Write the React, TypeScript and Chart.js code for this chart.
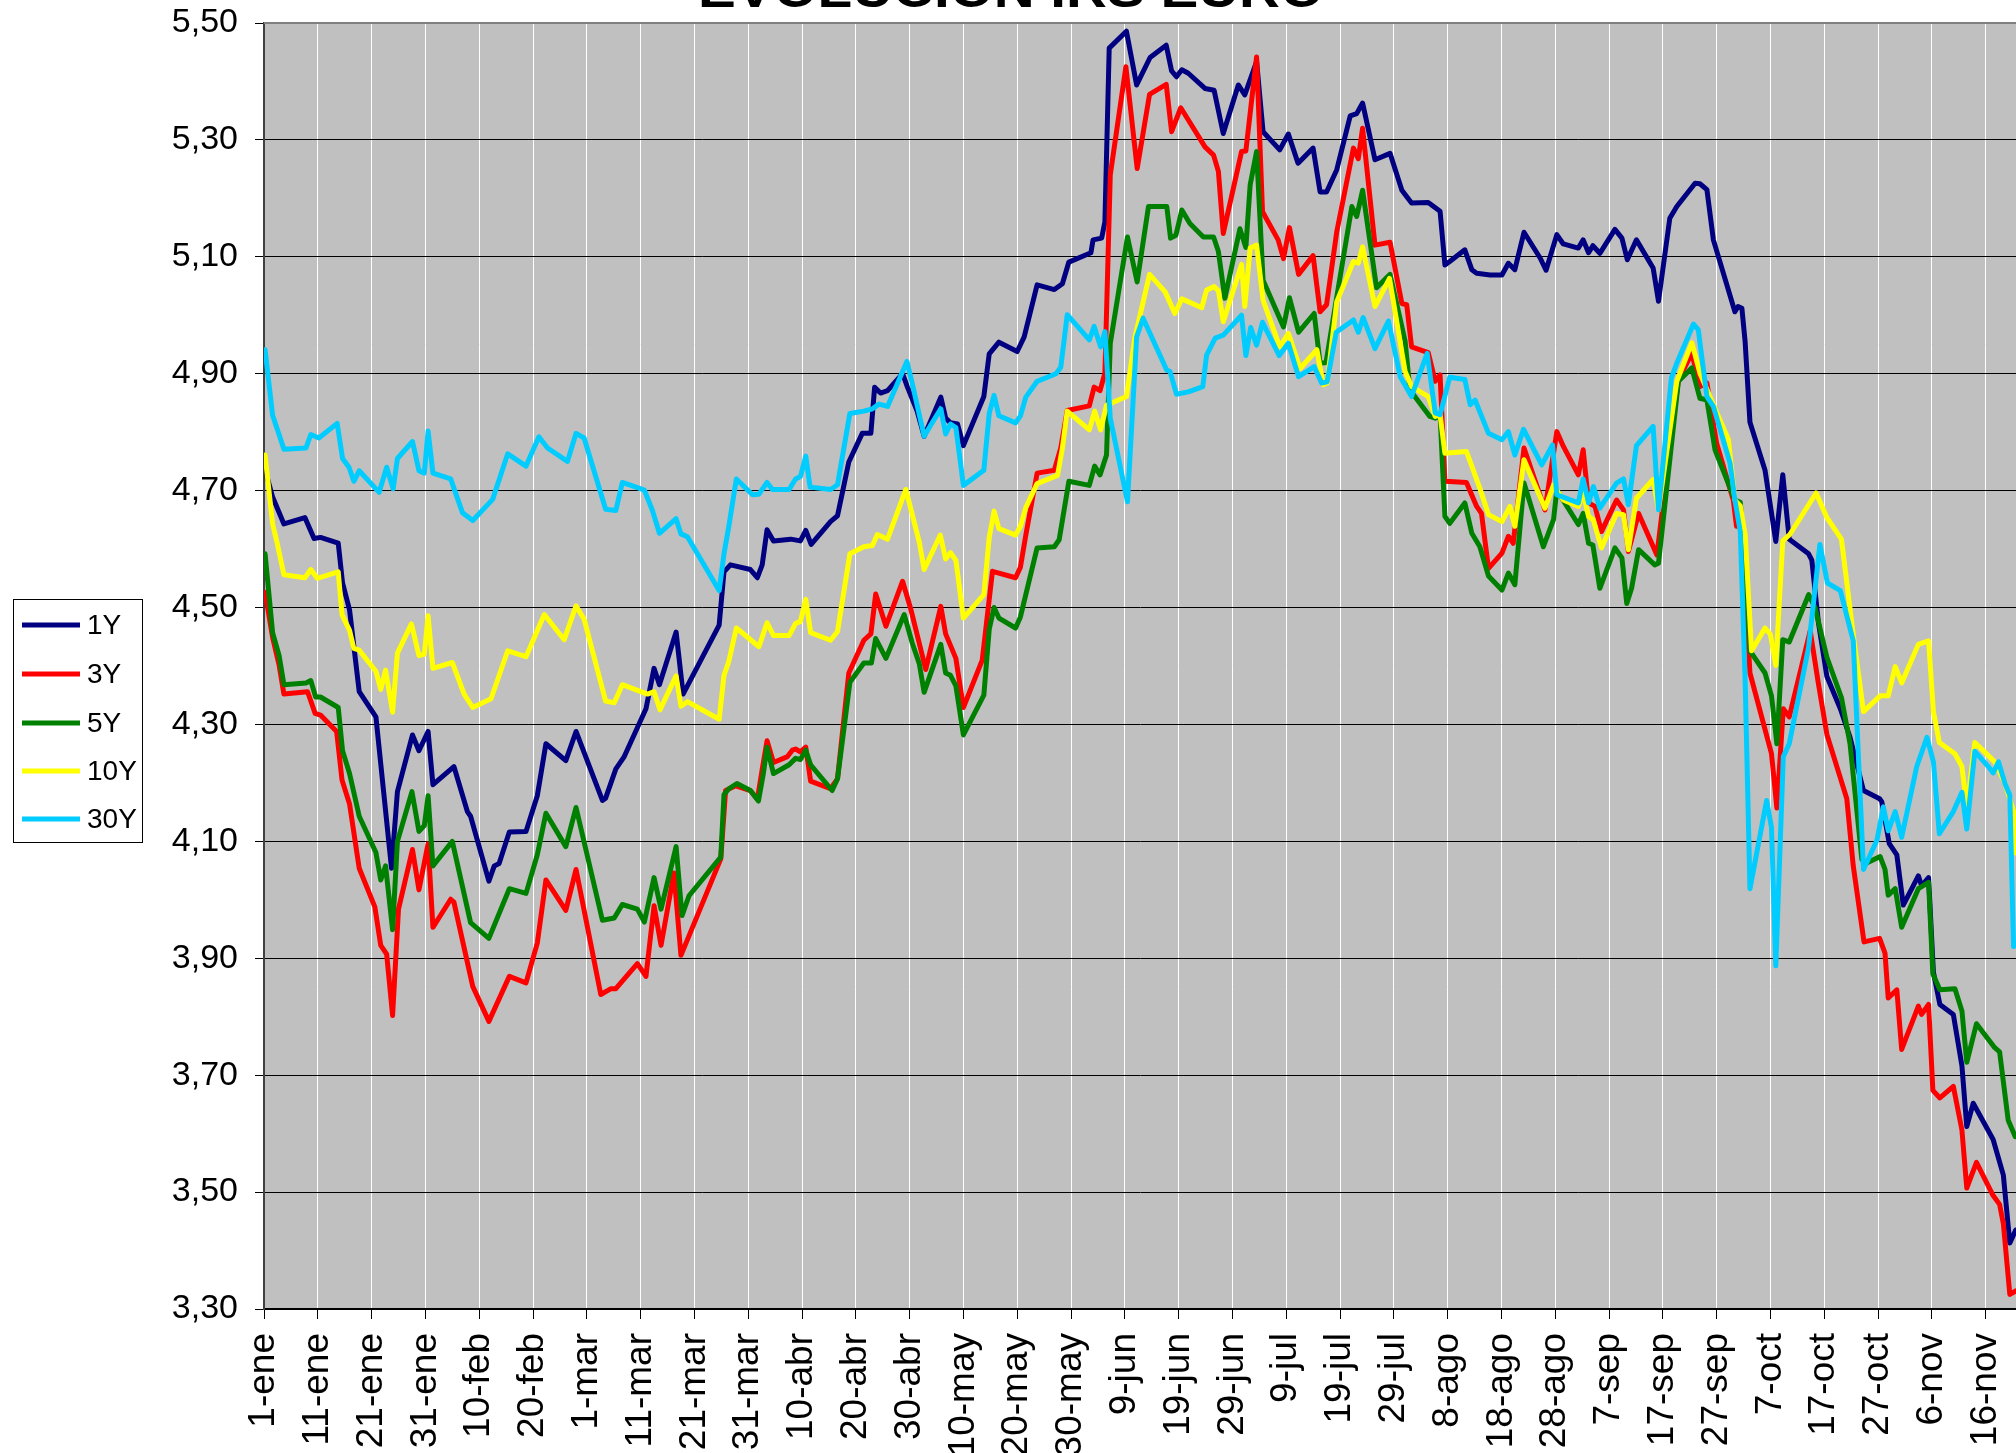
import React, { useEffect, useRef } from 'react';
import { Chart, registerables } from 'chart.js';

Chart.register(...registerables);

// Day index (0 = 1 January) and swap rate (%) for each tenor
const irs1Y: [number, number][] = [
  [0.2,4.736],[1.6,4.689],[3.7,4.643],[7.6,4.654],[9.3,4.618],[10.5,4.620],[13.8,4.610],[14.6,4.542],[15.9,4.496],[16.7,4.434],[17.7,4.356],[20.8,4.313],[23.7,4.054],[24.8,4.185],[27.6,4.282],[28.8,4.255],[30.5,4.288],[31.4,4.197],[35.3,4.228],[37.8,4.151],[38.4,4.143],[41.8,4.032],[42.8,4.058],[43.7,4.062],[45.6,4.116],[48.7,4.117],[50.8,4.178],[52.4,4.267],[56.1,4.238],[58,4.288],[62.9,4.170],[63.5,4.174],[65.4,4.224],[66.9,4.244],[71,4.327],[72.5,4.396],[73.5,4.368],[76.6,4.458],[77.9,4.352],
  [84.6,4.470],[85.5,4.561],[86.7,4.573],[90.4,4.565],[91.7,4.551],[92.6,4.573],[93.5,4.633],[94.7,4.614],[97.9,4.617],[99.7,4.614],[100.7,4.632],[101.7,4.608],[105.3,4.647],[106.6,4.657],[108.7,4.749],[111.2,4.798],[112.8,4.798],[113.5,4.877],[114.6,4.867],[115.9,4.871],[118.7,4.900],[119.6,4.877],[121.4,4.836],[122.7,4.793],[125.8,4.860],[126.7,4.824],[127.6,4.816],[128.9,4.814],[130,4.777],[133.8,4.861],[134.8,4.934],[136.6,4.954],[140,4.938],[141.3,4.963],[143.7,5.052],[146.9,5.044],[148.4,5.054],[149.6,5.091],[153.7,5.107],
  [154.1,5.129],[155.7,5.132],[156.3,5.160],[157.1,5.457],[160.3,5.486],[162.2,5.394],[164.7,5.441],[167.7,5.462],[168.7,5.418],[169.6,5.408],[170.6,5.420],[171.8,5.414],[174.9,5.388],[176.6,5.385],[178.3,5.311],[181.1,5.394],[182.3,5.377],[184.5,5.434],[185.7,5.314],[188.8,5.283],[190.4,5.310],[192.2,5.260],[195,5.286],[196.3,5.211],[197.5,5.211],[199.4,5.249],[201.9,5.341],[203.1,5.345],[204.2,5.363],[206.5,5.266],[209.3,5.277],[211.5,5.214],[213.3,5.192],[216.4,5.193],
  [218.6,5.178],[219.5,5.086],[220.4,5.092],[223.2,5.112],[224.5,5.078],[225.4,5.072],[227.9,5.069],[230.1,5.069],[231.3,5.089],[232.5,5.078],[234.2,5.142],[237.2,5.098],[238.3,5.077],[240.3,5.138],[241.5,5.122],[244.3,5.115],[245.2,5.129],[246.2,5.107],[247,5.119],[248.3,5.106],[251.1,5.147],[252.4,5.132],[253.4,5.095],[255.1,5.129],[258.2,5.081],[259.2,5.024],[261.3,5.166],[262.6,5.186],[266,5.226],[266.9,5.225],[268.2,5.215],[269.4,5.129],[273.4,5.006],[274.0,5.015],[274.7,5.012],[275.3,4.955],[276.2,4.817],
  [279,4.735],[281,4.613],[282.3,4.727],[283.5,4.617],[287.1,4.592],[287.7,4.581],[288.9,4.476],[290.5,4.382],[293,4.327],[294.8,4.278],[297.3,4.187],[300.3,4.173],[300.7,4.168],[302.1,4.096],[303.5,4.077],[304.7,3.991],[307.5,4.041],[308.1,4.024],[309.4,4.038],[310.3,3.876],[311.5,3.821],[314,3.804],[315.6,3.716],[316.5,3.612],[317.7,3.652],[321.4,3.590],[323.3,3.529],[324.5,3.413],[325.6,3.435],
];

const irs3Y: [number, number][] = [
  [0.2,4.526],[1.6,4.449],[2.8,4.402],[3.7,4.352],[8.1,4.356],[9.5,4.319],[10.5,4.316],[13.5,4.288],[14.5,4.205],[15.9,4.164],[17.7,4.054],[20.6,3.988],[21.7,3.922],[22.8,3.907],[23.9,3.802],[25,3.984],[27.6,4.086],[28.8,4.017],[30.5,4.096],[31.4,3.953],[34.7,4.001],[35.3,3.996],[38.8,3.852],[41.8,3.792],[45.6,3.869],[48.7,3.858],[50.8,3.926],[52.4,4.034],[56.1,3.982],[58,4.052],[62.6,3.838],[64.5,3.848],[65.4,3.848],[69.4,3.891],[71,3.869],[72.5,3.990],[73.8,3.922],[76.2,4.046],[77.5,3.905],
  [84.9,4.070],[85.8,4.187],[87.7,4.195],[90.4,4.187],[91.7,4.172],[92.6,4.223],[93.5,4.272],[94.7,4.235],[97.3,4.245],[98.2,4.256],[98.8,4.258],[99.7,4.253],[100.7,4.261],[101.6,4.203],[105.3,4.190],[106.6,4.207],[108.7,4.388],[111.5,4.444],[112.8,4.455],[113.7,4.523],[115.6,4.468],[118.7,4.545],[120.2,4.498],[123,4.394],[125.8,4.502],[126.7,4.455],[128.6,4.413],[130,4.329],[133.5,4.410],[135.4,4.562],[139.7,4.551],[140.6,4.569],[141.6,4.624],[143.7,4.730],[146.9,4.735],[148.1,4.773],[149.3,4.837],[153.4,4.845],[154.3,4.877],[155.4,4.871],[156.3,4.901],
  [157.3,5.240],[160.2,5.425],[162.3,5.251],[164.6,5.378],[167.7,5.395],[168.7,5.314],[170.4,5.355],[174.9,5.288],[176.5,5.274],[177.4,5.246],[178.3,5.140],[181.7,5.280],[182.5,5.281],[184.5,5.442],[185.6,5.177],[188.5,5.129],[189.5,5.097],[190.6,5.150],[192.3,5.070],[195,5.102],[196.3,5.006],[197.5,5.018],[199.4,5.143],[202.5,5.286],[203.4,5.268],[204.2,5.320],[206.5,5.120],[209.3,5.125],[211.5,5.020],[212.4,5.018],[213.3,4.946],[216.4,4.936],
  [217.7,4.887],[218.6,4.898],[219.5,4.716],[223.5,4.714],[225.4,4.673],[226.3,4.661],[227.6,4.567],[230.1,4.593],[231.3,4.622],[232.2,4.610],[234.2,4.773],[238.1,4.667],[240.3,4.801],[241.5,4.776],[244.3,4.727],[245.2,4.770],[246.2,4.679],[247.4,4.673],[248.6,4.630],[251.4,4.684],[252.7,4.667],[253.6,4.596],[255.5,4.661],[258.9,4.590],[262.9,4.890],[265.4,4.935],[266.9,4.878],[268.2,4.884],[270,4.781],[273.1,4.684],[273.7,4.639],[274.4,4.674],[276.2,4.388],
  [280.2,4.250],[281.2,4.157],[282.4,4.327],[283.5,4.313],[287.4,4.460],[288.9,4.371],[290.5,4.283],[294.2,4.173],[295.4,4.058],[297.4,3.928],[300.3,3.934],[301.3,3.909],[301.9,3.832],[303.5,3.846],[304.4,3.744],[307.5,3.818],[308.1,3.804],[309.4,3.821],[310.2,3.674],[311.5,3.661],[314,3.681],[315.6,3.606],[316.5,3.507],[318.3,3.551],[321.4,3.494],[322.6,3.479],[323.3,3.446],[324.5,3.325],[325.6,3.331],
];

const irs5Y: [number, number][] = [
  [0.2,4.592],[1.6,4.457],[2.8,4.418],[3.7,4.368],[7.8,4.371],[8.7,4.375],[9.6,4.347],[10.5,4.347],[13.8,4.329],[14.6,4.255],[15.9,4.216],[17.7,4.143],[20.8,4.081],[21.7,4.034],[22.6,4.058],[23.9,3.949],[24.8,4.100],[27.5,4.185],[28.8,4.117],[29.8,4.127],[30.5,4.178],[31.4,4.058],[35,4.100],[38.4,3.961],[41.8,3.934],[45.6,4.019],[48.7,4.011],[50.8,4.077],[52.4,4.148],[56.1,4.091],[58,4.158],[62.9,3.965],[65.1,3.969],[66.6,3.992],[69.4,3.984],[70.7,3.962],[72.5,4.038],[73.8,3.984],[76.6,4.091],[77.7,3.973],[79,4.007],
  [84.9,4.073],[85.5,4.180],[86.4,4.190],[87.9,4.199],[90.4,4.187],[91.9,4.169],[92.8,4.215],[93.5,4.261],[94.7,4.216],[97.6,4.231],[98.8,4.242],[99.7,4.240],[100.7,4.256],[101.6,4.231],[105.6,4.187],[106.6,4.207],[108.9,4.372],[111.5,4.405],[112.9,4.405],[113.7,4.447],[115.6,4.413],[119,4.488],[120.5,4.439],[121.8,4.404],[122.7,4.355],[125.8,4.437],[126.7,4.388],[127.6,4.384],[128.6,4.366],[130,4.282],[133.8,4.350],[134.8,4.463],[135.7,4.500],[136.6,4.482],[139.7,4.465],[140.6,4.484],[143.7,4.602],[146.9,4.604],[147.8,4.616],[149.6,4.716],[153.4,4.709],[154.4,4.742],[155.4,4.727],[156.6,4.761],
  [157.3,4.952],[160.5,5.134],[162.3,5.057],[164.4,5.186],[167.8,5.186],[168.5,5.132],[169.5,5.137],[170.6,5.180],[172.1,5.157],[174.6,5.134],[176.5,5.134],[177.4,5.109],[178.6,5.029],[181.4,5.148],[182.5,5.116],[183.3,5.223],[184.5,5.280],[185.7,5.060],[189.5,4.980],[190.6,5.030],[192.3,4.971],[195.2,5.003],[196.3,4.918],[197.4,4.919],[199.3,5.026],[202.2,5.186],[203.1,5.169],[204.2,5.214],[206.8,5.047],[209.3,5.070],[212.1,4.956],[213,4.872],[216.7,4.827],
  [217.7,4.824],[218.6,4.830],[219.5,4.656],[220.4,4.644],[223.2,4.679],[224.5,4.627],[226,4.604],[227.6,4.554],[230.1,4.530],[231.3,4.559],[232.5,4.539],[234.2,4.713],[237.8,4.604],[239.7,4.651],[240.3,4.701],[244.3,4.642],[245.2,4.661],[246.2,4.610],[247,4.607],[248.3,4.533],[251.1,4.602],[252.4,4.585],[253.3,4.507],[254.2,4.533],[255.5,4.599],[258.5,4.573],[259.2,4.576],[262.9,4.887],[265.4,4.910],[266.9,4.858],[268.2,4.855],[269.7,4.770],[273.4,4.684],[274.4,4.680],[275.3,4.581],[276.2,4.426],
  [279,4.388],[280.2,4.349],[281.2,4.267],[282.3,4.445],[283.5,4.441],[287.1,4.522],[288.3,4.500],[290.5,4.415],[293.2,4.346],[294.8,4.267],[297,4.069],[297.9,4.063],[300.4,4.074],[301.3,4.052],[301.9,4.008],[303.2,4.019],[304.4,3.953],[307.5,4.019],[309.4,4.030],[310.2,3.873],[311.5,3.846],[314.3,3.848],[315.6,3.810],[316.5,3.722],[318.3,3.788],[321.7,3.747],[322.6,3.740],[324.2,3.623],[325.5,3.595],
];

const irs10Y: [number, number][] = [
  [0.2,4.761],[1.6,4.643],[2.5,4.608],[3.7,4.556],[7.6,4.551],[8.7,4.565],[9.9,4.550],[13.8,4.561],[14.5,4.488],[15.9,4.461],[16.7,4.430],[17.7,4.427],[20.8,4.391],[21.7,4.360],[22.6,4.393],[23.9,4.321],[24.8,4.422],[27.4,4.472],[28.8,4.418],[29.8,4.420],[30.5,4.486],[31.4,4.396],[35,4.406],[37.2,4.352],[38.8,4.329],[42.2,4.344],[45.3,4.426],[48.7,4.416],[52.1,4.488],[55.8,4.445],[58,4.503],[59.5,4.480],[63.5,4.340],[65.1,4.337],[66.6,4.368],[71.3,4.352],[72.5,4.356],[73.6,4.325],[76.6,4.383],[77.5,4.331],[78.7,4.339],
  [84.6,4.309],[85.5,4.384],[86.4,4.408],[87.8,4.465],[92,4.433],[93.5,4.474],[94.7,4.452],[97.6,4.452],[98.8,4.473],[99.7,4.476],[100.7,4.514],[101.6,4.457],[105.3,4.444],[106.6,4.459],[108.9,4.592],[111.5,4.604],[113.1,4.606],[114,4.625],[115.9,4.617],[119.3,4.702],[121.8,4.612],[122.7,4.565],[125.7,4.624],[126.7,4.583],[127.6,4.594],[128.6,4.581],[130,4.482],[133.8,4.522],[134.8,4.620],[135.7,4.665],[136.6,4.635],[139.7,4.624],[140.6,4.639],[141.6,4.671],[143.7,4.712],[147.5,4.726],[148.4,4.773],[149.3,4.836],[153.4,4.804],[154.4,4.836],[155.5,4.804],[156.6,4.846],
  [160.3,4.861],[161.9,4.963],[164.6,5.070],[167.5,5.040],[169.3,5.003],[170.6,5.028],[174.3,5.013],[175.2,5.043],[176.6,5.049],[177.4,5.042],[178.3,4.989],[181.7,5.087],[182.3,5.015],[183.3,5.115],[184.5,5.120],[185.7,5.026],[188.8,4.946],[190.4,4.969],[192.6,4.909],[195.7,4.941],[196.9,4.881],[197.6,4.884],[199.4,5.023],[202.5,5.092],[203.4,5.089],[204.2,5.117],[206.5,5.015],[209.2,5.063],[212.1,4.904],[213.3,4.878],[216.4,4.861],
  [217.7,4.827],[218.6,4.830],[219.5,4.764],[223.5,4.767],[226,4.704],[227.6,4.659],[230.1,4.647],[231.6,4.673],[232.5,4.639],[234.2,4.753],[238.1,4.670],[239.7,4.710],[241.5,4.684],[244.3,4.673],[245.2,4.696],[246.2,4.656],[247.1,4.650],[248.6,4.602],[251.4,4.661],[252.7,4.659],[253.6,4.599],[255.1,4.687],[258.2,4.719],[259.2,4.667],[262.6,4.887],[265.4,4.953],[266.9,4.901],[268.2,4.873],[272.2,4.787],[273.4,4.684],[274.4,4.674],[275.3,4.625],[276.5,4.426],
  [279,4.465],[280,4.454],[281,4.401],[282.3,4.614],[283.6,4.625],[288.5,4.696],[290.5,4.654],[293.2,4.617],[295.4,4.454],[297.3,4.322],[300.4,4.349],[301.9,4.349],[303.2,4.399],[304.4,4.371],[307.5,4.437],[309.4,4.443],[310.3,4.322],[311.4,4.269],[314.3,4.250],[315.6,4.228],[316.5,4.157],[318,4.269],[321.7,4.236],[323.6,4.199],[325.2,4.151],[325.6,4.080],
];

const irs30Y: [number, number][] = [
  [0.2,4.941],[1.6,4.829],[3.7,4.771],[7.8,4.773],[8.7,4.796],[10.2,4.790],[13.6,4.815],[14.6,4.755],[15.8,4.740],[16.7,4.716],[17.7,4.734],[21.4,4.697],[22.8,4.740],[24,4.703],[24.8,4.755],[27.6,4.784],[28.8,4.734],[29.8,4.730],[30.5,4.802],[31.4,4.730],[34.7,4.720],[36.9,4.662],[38.8,4.649],[42.5,4.685],[45.3,4.763],[48.7,4.742],[51.1,4.792],[52.7,4.773],[56.4,4.750],[58,4.798],[59.5,4.790],[63.5,4.668],[65.4,4.666],[66.6,4.714],[69.4,4.705],[70.7,4.701],[72.2,4.666],[73.5,4.627],[76.6,4.652],[77.5,4.626],[78.7,4.621],
  [84.6,4.529],[85.5,4.592],[86.4,4.639],[87.8,4.720],[90.8,4.693],[92,4.694],[93.5,4.714],[94.5,4.702],[97.6,4.702],[98.8,4.720],[99.7,4.724],[100.7,4.759],[101.5,4.706],[105.3,4.702],[106.6,4.710],[108.9,4.832],[111.5,4.836],[113.1,4.840],[114.3,4.848],[115.9,4.844],[119.5,4.921],[120.5,4.883],[122.7,4.793],[124.2,4.816],[125.8,4.840],[126.7,4.797],[127.6,4.814],[128.6,4.808],[130,4.709],[133.8,4.735],[134.8,4.832],[135.7,4.863],[136.6,4.828],[139.7,4.816],[140.6,4.828],[141.6,4.860],[143.7,4.887],[147.2,4.900],[148.1,4.911],[149.3,5.001],[153.4,4.958],[154.3,4.981],[155.5,4.946],[156.3,4.972],
  [157.3,4.824],[160.5,4.681],[162.2,4.963],[163.4,4.995],[167.8,4.906],[168.4,4.904],[169.6,4.865],[171.8,4.869],[174.5,4.878],[175.2,4.932],[176.8,4.961],[178.3,4.966],[181.7,5.000],[182.5,4.931],[183.4,4.979],[184.5,4.949],[185.6,4.988],[188.7,4.931],[190.4,4.952],[192.3,4.895],[195.2,4.912],[196.6,4.884],[197.6,4.886],[199.3,4.971],[202.5,4.992],[203.4,4.971],[204.3,4.996],[206.5,4.943],[209,4.990],[211.2,4.895],[213.3,4.861],[216.2,4.935],
  [217.7,4.833],[218.6,4.830],[220.4,4.894],[223.2,4.890],[224.2,4.847],[225.1,4.855],[227.6,4.798],[230.1,4.787],[231.3,4.801],[232.5,4.761],[234.1,4.805],[237.5,4.744],[239.5,4.778],[240.3,4.693],[244.3,4.679],[245.2,4.720],[246.2,4.679],[247.1,4.707],[248.3,4.670],[251.4,4.713],[252.7,4.720],[253.6,4.676],[255.1,4.777],[258.2,4.810],[259.2,4.667],[261.6,4.893],[262.6,4.918],[265.7,4.985],[266.6,4.975],[268.2,4.861],[269.4,4.844],[272.5,4.747],[273.4,4.684],[274.4,4.630],[275.3,4.377],[276.2,4.019],
  [279.3,4.170],[280.2,4.124],[281,3.887],[282.4,4.245],[283.5,4.267],[287.1,4.432],[289.2,4.608],[290.6,4.542],[293,4.529],[295.4,4.443],[297.3,4.052],[299.8,4.102],[301,4.159],[301.9,4.118],[303.2,4.151],[304.4,4.107],[307.2,4.228],[309.1,4.278],[310.3,4.236],[311.4,4.113],[314,4.151],[315.6,4.184],[316.5,4.121],[318,4.254],[320.5,4.228],[321.4,4.217],[322.4,4.236],[323.6,4.199],[324.5,4.179],[325.2,3.920],
];

const seriesNames = ['1Y', '3Y', '5Y', '10Y', '30Y'];
const seriesColors = ['#000080', '#FF0000', '#008000', '#FFFF00', '#00CCFF'];
const seriesData = [irs1Y, irs3Y, irs5Y, irs10Y, irs30Y];

const yTickValues = [3.3, 3.5, 3.7, 3.9, 4.1, 4.3, 4.5, 4.7, 4.9, 5.1, 5.3, 5.5];
const xTickDays = [0, 10, 20, 30, 40, 50, 60, 70, 80, 90, 100, 110, 120, 130, 140, 150, 160, 170, 180, 190, 200, 210, 220, 230, 240, 250, 260, 270, 280, 290, 300, 310, 320];
const xTickLabels = ['1-ene', '11-ene', '21-ene', '31-ene', '10-feb', '20-feb', '1-mar', '11-mar', '21-mar', '31-mar', '10-abr', '20-abr', '30-abr', '10-may', '20-may', '30-may', '9-jun', '19-jun', '29-jun', '9-jul', '19-jul', '29-jul', '8-ago', '18-ago', '28-ago', '7-sep', '17-sep', '27-sep', '7-oct', '17-oct', '27-oct', '6-nov', '16-nov'];
const titleText = 'EVOLUCIÓN IRS EURO';

const FONT = '"Liberation Sans", Arial, Helvetica, sans-serif';
const W = 2016;
const H = 1453;
const PAD_LEFT = 150;
const PLOT_LEFT = 264;
const PLOT_TOP = 23;
const PLOT_BOTTOM = 1309;
const X_MAX = 325.65;

const decorPlugin = {
  id: 'decor',
  beforeDraw(chart: any) {
    const { ctx, chartArea } = chart;
    ctx.save();
    ctx.fillStyle = '#FFFFFF';
    ctx.fillRect(0, 0, chart.width, chart.height);
    ctx.fillStyle = '#C0C0C0';
    ctx.fillRect(chartArea.left, chartArea.top, chartArea.right - chartArea.left, chartArea.bottom - chartArea.top);
    ctx.restore();
  },
  afterDraw(chart: any) {
    const { ctx, chartArea } = chart;
    ctx.save();
    ctx.strokeStyle = '#808080';
    ctx.lineWidth = 2;
    ctx.beginPath();
    ctx.moveTo(chartArea.left, chartArea.top);
    ctx.lineTo(chartArea.right, chartArea.top);
    ctx.stroke();

    ctx.font = `bold 50px ${FONT}`;
    const tw = ctx.measureText(titleText).width;
    ctx.translate(1011, 6.5);
    ctx.scale(626 / tw, 1);
    ctx.fillStyle = '#000000';
    ctx.textAlign = 'center';
    ctx.textBaseline = 'alphabetic';
    ctx.fillText(titleText, 0, 0);
    ctx.restore();

    ctx.save();
    ctx.fillStyle = '#FFFFFF';
    ctx.fillRect(13.5, 599.5, 129, 243);
    ctx.strokeStyle = '#000000';
    ctx.lineWidth = 1;
    ctx.strokeRect(13.5, 599.5, 129, 243);
    const rows = [625, 674, 723, 771, 819];
    ctx.font = `28px ${FONT}`;
    ctx.textAlign = 'left';
    ctx.textBaseline = 'middle';
    seriesNames.forEach((name, i) => {
      ctx.strokeStyle = seriesColors[i];
      ctx.lineWidth = 5;
      ctx.beginPath();
      ctx.moveTo(22, rows[i]);
      ctx.lineTo(80, rows[i]);
      ctx.stroke();
      ctx.fillStyle = '#000000';
      ctx.fillText(name, 87, rows[i] + 1);
    });
    ctx.restore();
  },
};

export default function App() {
  const ref = useRef<HTMLCanvasElement | null>(null);

  useEffect(() => {
    if (!ref.current) return;
    const datasets = seriesData.map((pts, i) => ({
      label: seriesNames[i],
      data: pts.map(([x, y]) => ({ x, y })),
      borderColor: seriesColors[i],
      backgroundColor: seriesColors[i],
      borderWidth: 5,
      pointRadius: 0,
      tension: 0,
      fill: false,
      borderJoinStyle: 'round' as const,
      borderCapStyle: 'round' as const,
      order: seriesNames.length - i,
    }));

    const chart = new Chart(ref.current, {
      type: 'line',
      data: { datasets },
      plugins: [decorPlugin],
      options: {
        animation: false,
        responsive: false,
        devicePixelRatio: 1,
        layout: { padding: { left: PAD_LEFT, top: PLOT_TOP, right: 0, bottom: 0 } },
        plugins: {
          legend: { display: false },
          title: { display: false },
          tooltip: { enabled: false },
        },
        scales: {
          x: {
            type: 'linear',
            min: 0,
            max: X_MAX,
            afterBuildTicks: (scale: any) => {
              scale.ticks = xTickDays.map((v) => ({ value: v }));
            },
            afterFit: (scale: any) => {
              scale.height = H - PLOT_BOTTOM;
              scale.paddingLeft = 0;
              scale.paddingRight = 0;
              scale.paddingTop = 0;
              scale.paddingBottom = 0;
            },
            ticks: {
              autoSkip: false,
              minRotation: 90,
              maxRotation: 90,
              padding: 14,
              color: '#000000',
              font: { family: FONT, size: 37 },
              callback: (_v: any, idx: number) => xTickLabels[idx],
            },
            grid: {
              color: '#FFFFFF',
              lineWidth: 1,
              tickColor: '#000000',
              tickLength: 10,
            },
            border: { display: true, color: '#000000', width: 2 },
          },
          y: {
            type: 'linear',
            min: 3.3,
            max: 5.5,
            afterBuildTicks: (scale: any) => {
              scale.ticks = yTickValues.map((v) => ({ value: v }));
            },
            afterFit: (scale: any) => {
              scale.width = PLOT_LEFT - PAD_LEFT;
              scale.paddingLeft = 0;
              scale.paddingRight = 0;
              scale.paddingTop = 0;
              scale.paddingBottom = 0;
            },
            ticks: {
              padding: 17,
              color: '#000000',
              font: { family: FONT, size: 34 },
              callback: (v: any) => Number(v).toFixed(2).replace('.', ','),
            },
            grid: {
              color: '#000000',
              lineWidth: 1,
              tickColor: '#000000',
              tickLength: 9,
            },
            border: { display: true, color: '#404040', width: 2 },
          },
        },
      },
    });
    return () => chart.destroy();
  }, []);

  return (
    <div style={{ position: 'fixed', left: 0, top: 0, width: W, height: H, overflow: 'hidden', background: '#FFFFFF' }}>
      <canvas ref={ref} width={W} height={H} style={{ width: W, height: H, display: 'block' }} />
    </div>
  );
}
